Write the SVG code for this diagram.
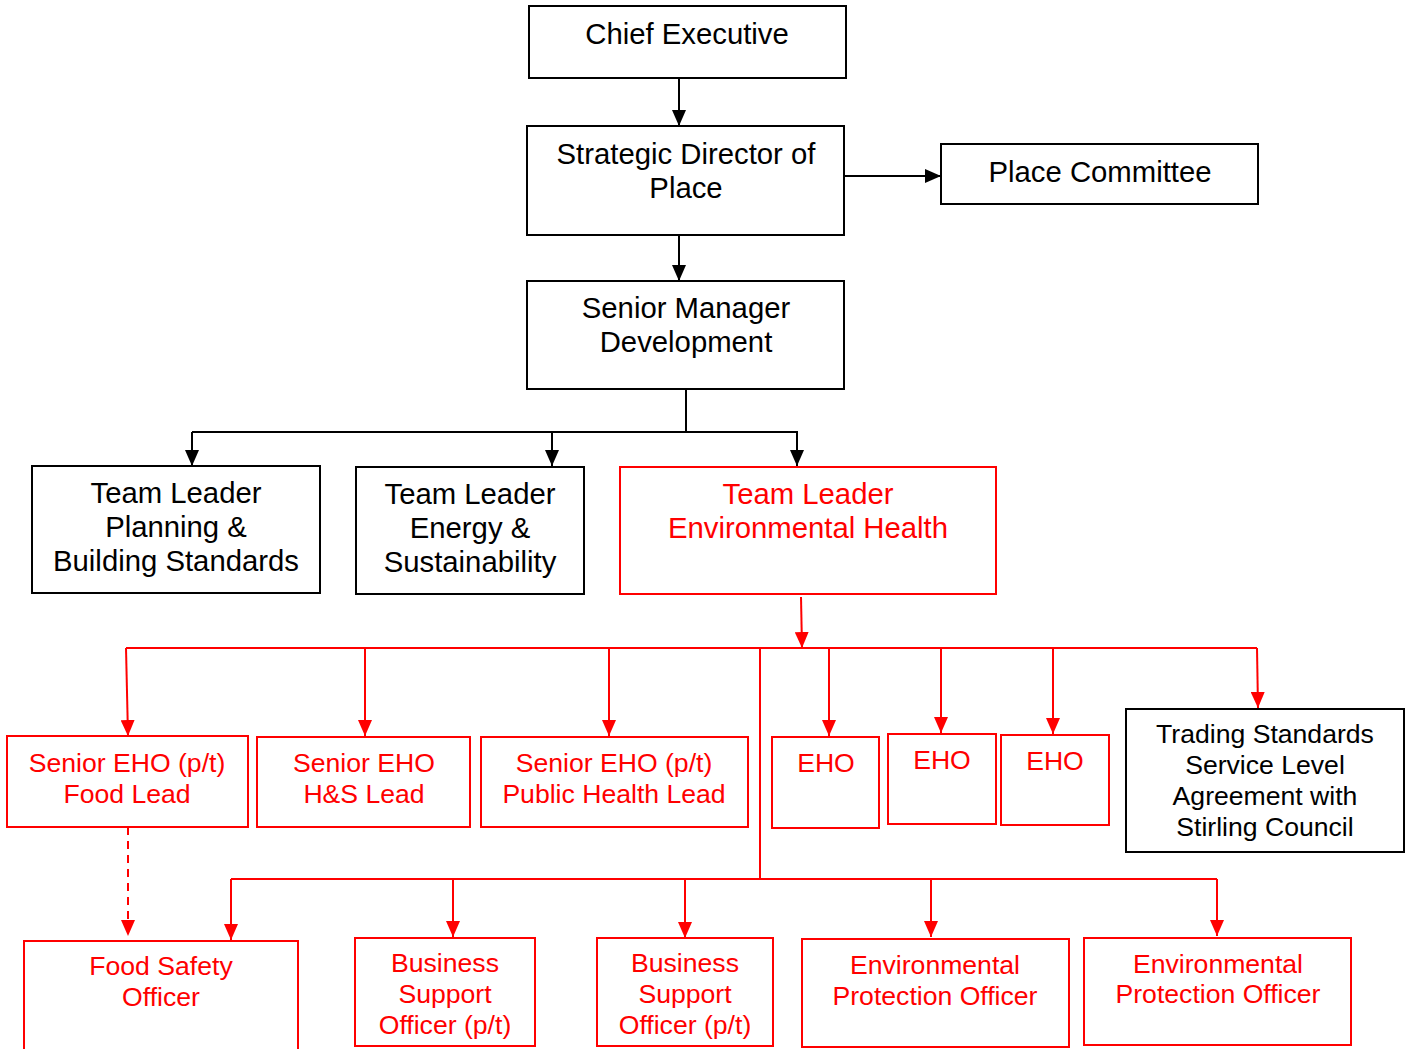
<svg xmlns="http://www.w3.org/2000/svg" width="1412" height="1049" viewBox="0 0 1412 1049">
<style>
text{font-family:"Liberation Sans",Arial,sans-serif;text-anchor:middle}
.bk rect{fill:#fff;stroke:#000;stroke-width:2}
.rd rect{fill:#fff;stroke:#ff0000;stroke-width:2}
.bk text{fill:#000;font-size:29.3px}
.rd text{fill:#ff0000;font-size:26.6px}
.big text{font-size:29.3px}
.sm text{font-size:26.6px}
.cb{fill:none;stroke:#000;stroke-width:2}
.cr{fill:none;stroke:#ff0000;stroke-width:2}
.cba{marker-end:url(#ab)}
.cra{marker-end:url(#ar)}
</style>
<defs>
<marker id="ab" markerUnits="userSpaceOnUse" markerWidth="16" markerHeight="14" viewBox="0 0 16 14" refX="16" refY="7" orient="auto"><path d="M0,0 L16,7 L0,14 Z" fill="#000"/></marker>
<marker id="ar" markerUnits="userSpaceOnUse" markerWidth="16" markerHeight="14" viewBox="0 0 16 14" refX="16" refY="7" orient="auto"><path d="M0,0 L16,7 L0,14 Z" fill="#ff0000"/></marker>
</defs>
<rect width="1412" height="1049" fill="#fff"/>
<g id="connectors">
<path class="cb cba" d="M679,78 V126"/>
<path class="cb cba" d="M844,176 H941"/>
<path class="cb cba" d="M679,235 V281"/>
<path class="cb" d="M686,389 V432 M192,432 H798"/>
<path class="cb cba" d="M192,432 V466"/>
<path class="cb cba" d="M552,432 V466"/>
<path class="cb cba" d="M797,432 V466"/>
<path class="cr cra" d="M801,597 L802,648"/>
<path class="cr" d="M126,648 H1257 M760,648 V879 M231,879 H1217"/>
<path class="cr cra" d="M126,648 L128,736"/>
<path class="cr cra" d="M365,648 V736"/>
<path class="cr cra" d="M609,648 V736"/>
<path class="cr cra" d="M829,648 V736"/>
<path class="cr cra" d="M941,648 V733"/>
<path class="cr cra" d="M1053,648 V734"/>
<path class="cr cra" d="M1257,648 L1258,708"/>
<path class="cr cra" d="M128,827 V936" stroke-dasharray="8,6"/>
<path class="cr cra" d="M231,879 V940"/>
<path class="cr cra" d="M453,879 V937"/>
<path class="cr cra" d="M685,879 V938"/>
<path class="cr cra" d="M931,879 V937"/>
<path class="cr cra" d="M1217,879 V936"/>
</g>
<g id="chief-executive" class="bk"><rect x="529" y="6" width="317" height="72"/><text x="687" y="44">Chief Executive</text></g>
<g id="strategic-director" class="bk"><rect x="527" y="126" width="317" height="109"/><text x="686" y="164">Strategic Director of</text><text x="686" y="198">Place</text></g>
<g id="place-committee" class="bk"><rect x="941" y="144" width="317" height="60"/><text x="1100" y="182">Place Committee</text></g>
<g id="senior-manager" class="bk"><rect x="527" y="281" width="317" height="108"/><text x="686" y="318">Senior Manager</text><text x="686" y="352">Development</text></g>
<g id="tl-planning" class="bk"><rect x="32" y="466" width="288" height="127"/><text x="176" y="503">Team Leader</text><text x="176" y="537">Planning &amp;</text><text x="176" y="571">Building Standards</text></g>
<g id="tl-energy" class="bk"><rect x="356" y="467" width="228" height="127"/><text x="470" y="504">Team Leader</text><text x="470" y="538">Energy &amp;</text><text x="470" y="572">Sustainability</text></g>
<g id="tl-eh" class="rd big"><rect x="620" y="467" width="376" height="127"/><text x="808" y="504">Team Leader</text><text x="808" y="538">Environmental Health</text></g>
<g id="senior-eho-food" class="rd"><rect x="7" y="736" width="241" height="91"/><text x="127" y="772">Senior EHO (p/t)</text><text x="127" y="803">Food Lead</text></g>
<g id="senior-eho-hs" class="rd"><rect x="257" y="737" width="213" height="90"/><text x="364" y="772">Senior EHO</text><text x="364" y="803">H&amp;S Lead</text></g>
<g id="senior-eho-ph" class="rd"><rect x="481" y="737" width="267" height="90"/><text x="614" y="772">Senior EHO (p/t)</text><text x="614" y="803">Public Health Lead</text></g>
<g id="eho-1" class="rd"><rect x="772" y="737" width="107" height="91"/><text x="826" y="772">EHO</text></g>
<g id="eho-2" class="rd"><rect x="888" y="734" width="108" height="90"/><text x="942" y="769">EHO</text></g>
<g id="eho-3" class="rd"><rect x="1001" y="735" width="108" height="90"/><text x="1055" y="770">EHO</text></g>
<g id="trading-standards" class="bk sm"><rect x="1126" y="709" width="278" height="143"/><text x="1265" y="743">Trading Standards</text><text x="1265" y="774">Service Level</text><text x="1265" y="805">Agreement with</text><text x="1265" y="836">Stirling Council</text></g>
<g id="food-safety-officer" class="rd"><rect x="24" y="941" width="274" height="112"/><text x="161" y="975">Food Safety</text><text x="161" y="1006">Officer</text></g>
<g id="bso-1" class="rd"><rect x="355" y="938" width="180" height="108"/><text x="445" y="972">Business</text><text x="445" y="1003">Support</text><text x="445" y="1034">Officer (p/t)</text></g>
<g id="bso-2" class="rd"><rect x="597" y="938" width="176" height="108"/><text x="685" y="972">Business</text><text x="685" y="1003">Support</text><text x="685" y="1034">Officer (p/t)</text></g>
<g id="epo-1" class="rd"><rect x="802" y="939" width="267" height="108"/><text x="935" y="974">Environmental</text><text x="935" y="1005">Protection Officer</text></g>
<g id="epo-2" class="rd"><rect x="1084" y="938" width="267" height="107"/><text x="1218" y="973">Environmental</text><text x="1218" y="1003">Protection Officer</text></g>
</svg>
